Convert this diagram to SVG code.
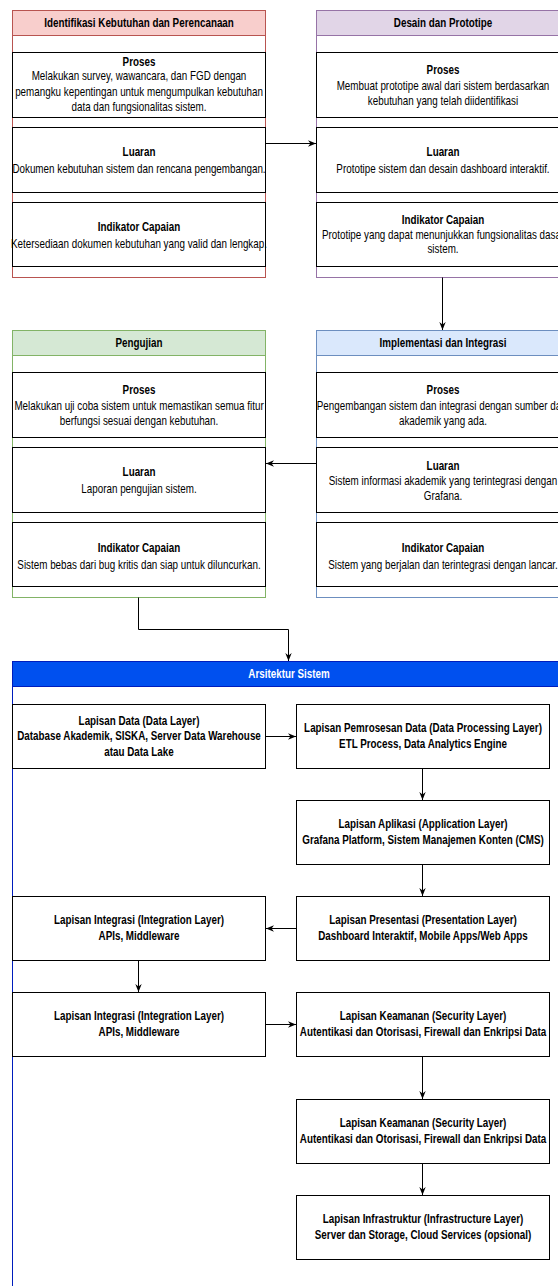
<svg xmlns="http://www.w3.org/2000/svg" width="558" height="1286" viewBox="0 0 558 1286">
<style>
.t{font-family:"Liberation Sans",Arial,sans-serif;font-size:12px;text-anchor:middle;fill:#000;transform-box:fill-box;transform-origin:center;transform:scaleX(0.82)}
.b{font-weight:bold}
.w{fill:#fff}
.box{fill:#fff;stroke:#000;stroke-width:1}
.edge{fill:none;stroke:#000;stroke-width:1}
.red{stroke:#b85450}.redh{fill:#f8cecc;stroke:#b85450}
.pur{stroke:#9673a6}.purh{fill:#e1d5e7;stroke:#9673a6}
.grn{stroke:#82b366}.grnh{fill:#d5e8d4;stroke:#82b366}
.blu{stroke:#6c8ebf}.bluh{fill:#dae8fc;stroke:#6c8ebf}
.arc{stroke:#001dbc}.arch{fill:#0050ef;stroke:#001dbc}
.cont{fill:#fff;stroke-width:1}
</style>
<defs>
<marker id="arr" viewBox="0 0 10 10" refX="10" refY="5" markerWidth="8" markerHeight="8" orient="auto" markerUnits="userSpaceOnUse">
<path d="M0,1 L10,5 L0,9 L3,5 z" fill="#000"/>
</marker>
</defs>
<rect width="558" height="1286" fill="#fff"/>

<g id="identifikasi">
<rect class="cont red" x="12.5" y="10.5" width="253" height="267"/>
<rect class="redh" x="12.5" y="10.5" width="253" height="25"/>
<text class="t b" x="139" y="27">Identifikasi Kebutuhan dan Perencanaan</text>
<rect class="box" x="12.5" y="52.5" width="253" height="65"/>
<text class="t b" x="139" y="66">Proses</text>
<text class="t" x="139" y="80.5">Melakukan survey, wawancara, dan FGD dengan</text>
<text class="t" x="139" y="96">pemangku kepentingan untuk mengumpulkan kebutuhan</text>
<text class="t" x="139" y="111.5">data dan fungsionalitas sistem.</text>
<rect class="box" x="12.5" y="127.5" width="253" height="65"/>
<text class="t b" x="139" y="156">Luaran</text>
<text class="t" x="139" y="173.5">Dokumen kebutuhan sistem dan rencana pengembangan.</text>
<rect class="box" x="12.5" y="202.5" width="253" height="64"/>
<text class="t b" x="139" y="231">Indikator Capaian</text>
<text class="t" x="139" y="248.5">Ketersediaan dokumen kebutuhan yang valid dan lengkap.</text>
</g>

<g id="desain">
<rect class="cont pur" x="316.5" y="10.5" width="253" height="267"/>
<rect class="purh" x="316.5" y="10.5" width="253" height="25"/>
<text class="t b" x="443" y="27">Desain dan Prototipe</text>
<rect class="box" x="316.5" y="52.5" width="253" height="65"/>
<text class="t b" x="443" y="74">Proses</text>
<text class="t" x="443" y="90">Membuat prototipe awal dari sistem berdasarkan</text>
<text class="t" x="443" y="105.5">kebutuhan yang telah diidentifikasi</text>
<rect class="box" x="316.5" y="127.5" width="253" height="65"/>
<text class="t b" x="443" y="156">Luaran</text>
<text class="t" x="443" y="173.5">Prototipe sistem dan desain dashboard interaktif.</text>
<rect class="box" x="316.5" y="202.5" width="253" height="64"/>
<text class="t b" x="443" y="224.5">Indikator Capaian</text>
<text class="t" x="443" y="239">Prototipe yang dapat menunjukkan fungsionalitas dasar</text>
<text class="t" x="443" y="253.5">sistem.</text>
</g>

<g id="pengujian">
<rect class="cont grn" x="12.5" y="330.5" width="253" height="267"/>
<rect class="grnh" x="12.5" y="330.5" width="253" height="25"/>
<text class="t b" x="139" y="347">Pengujian</text>
<rect class="box" x="12.5" y="372.5" width="253" height="65"/>
<text class="t b" x="139" y="394.5">Proses</text>
<text class="t" x="139" y="410">Melakukan uji coba sistem untuk memastikan semua fitur</text>
<text class="t" x="139" y="425.5">berfungsi sesuai dengan kebutuhan.</text>
<rect class="box" x="12.5" y="447.5" width="253" height="65"/>
<text class="t b" x="139" y="476">Luaran</text>
<text class="t" x="139" y="493.5">Laporan pengujian sistem.</text>
<rect class="box" x="12.5" y="522.5" width="253" height="64"/>
<text class="t b" x="139" y="552">Indikator Capaian</text>
<text class="t" x="139" y="569.5">Sistem bebas dari bug kritis dan siap untuk diluncurkan.</text>
</g>

<g id="implementasi">
<rect class="cont blu" x="316.5" y="330.5" width="253" height="267"/>
<rect class="bluh" x="316.5" y="330.5" width="253" height="25"/>
<text class="t b" x="443" y="347">Implementasi dan Integrasi</text>
<rect class="box" x="316.5" y="372.5" width="253" height="65"/>
<text class="t b" x="443" y="394.5">Proses</text>
<text class="t" x="443" y="410">Pengembangan sistem dan integrasi dengan sumber data</text>
<text class="t" x="443" y="425.5">akademik yang ada.</text>
<rect class="box" x="316.5" y="447.5" width="253" height="65"/>
<text class="t b" x="443" y="470">Luaran</text>
<text class="t" x="443" y="485">Sistem informasi akademik yang terintegrasi dengan</text>
<text class="t" x="443" y="500">Grafana.</text>
<rect class="box" x="316.5" y="522.5" width="253" height="64"/>
<text class="t b" x="443" y="552">Indikator Capaian</text>
<text class="t" x="443" y="569.5">Sistem yang berjalan dan terintegrasi dengan lancar.</text>
</g>

<g id="arsitektur">
<rect class="cont arc" x="12.5" y="661.5" width="553" height="640"/>
<rect class="arch" x="12.5" y="661.5" width="553" height="25"/>
<text class="t b w" x="289" y="678">Arsitektur Sistem</text>
</g>

<g id="data-layer">
<rect class="box" x="12.5" y="704.5" width="253" height="64"/>
<text class="t b" x="139" y="725">Lapisan Data (Data Layer)</text>
<text class="t b" x="139" y="740.5">Database Akademik, SISKA, Server Data Warehouse</text>
<text class="t b" x="139" y="756">atau Data Lake</text>
</g>
<g id="processing-layer">
<rect class="box" x="296.5" y="704.5" width="253" height="64"/>
<text class="t b" x="423" y="732.5">Lapisan Pemrosesan Data (Data Processing Layer)</text>
<text class="t b" x="423" y="748.5">ETL Process, Data Analytics Engine</text>
</g>
<g id="application-layer">
<rect class="box" x="296.5" y="800.5" width="253" height="64"/>
<text class="t b" x="423" y="828.5">Lapisan Aplikasi (Application Layer)</text>
<text class="t b" x="423" y="844.5">Grafana Platform, Sistem Manajemen Konten (CMS)</text>
</g>
<g id="presentation-layer">
<rect class="box" x="296.5" y="896.5" width="253" height="64"/>
<text class="t b" x="423" y="924.5">Lapisan Presentasi (Presentation Layer)</text>
<text class="t b" x="423" y="940.5">Dashboard Interaktif, Mobile Apps/Web Apps</text>
</g>
<g id="integration-layer-1">
<rect class="box" x="12.5" y="896.5" width="253" height="64"/>
<text class="t b" x="139" y="924.5">Lapisan Integrasi (Integration Layer)</text>
<text class="t b" x="139" y="940.5">APIs, Middleware</text>
</g>
<g id="integration-layer-2">
<rect class="box" x="12.5" y="992.5" width="253" height="64"/>
<text class="t b" x="139" y="1020.5">Lapisan Integrasi (Integration Layer)</text>
<text class="t b" x="139" y="1036.5">APIs, Middleware</text>
</g>
<g id="security-layer-1">
<rect class="box" x="296.5" y="992.5" width="253" height="64"/>
<text class="t b" x="423" y="1020.5">Lapisan Keamanan (Security Layer)</text>
<text class="t b" x="423" y="1036.5">Autentikasi dan Otorisasi, Firewall dan Enkripsi Data</text>
</g>
<g id="security-layer-2">
<rect class="box" x="296.5" y="1099.5" width="253" height="64"/>
<text class="t b" x="423" y="1127.5">Lapisan Keamanan (Security Layer)</text>
<text class="t b" x="423" y="1143.5">Autentikasi dan Otorisasi, Firewall dan Enkripsi Data</text>
</g>
<g id="infrastructure-layer">
<rect class="box" x="296.5" y="1195.5" width="253" height="64"/>
<text class="t b" x="423" y="1223.5">Lapisan Infrastruktur (Infrastructure Layer)</text>
<text class="t b" x="423" y="1239.5">Server dan Storage, Cloud Services (opsional)</text>
</g>

<g id="connectors">
<path class="edge" d="M265.5,143.5 H316" marker-end="url(#arr)"/>
<path class="edge" d="M442.5,277.5 V330" marker-end="url(#arr)"/>
<path class="edge" d="M316.5,463.5 H266" marker-end="url(#arr)"/>
<path class="edge" d="M138.5,597.5 V629.5 H288.5 V661" marker-end="url(#arr)"/>
<path class="edge" d="M265.5,736.5 H296" marker-end="url(#arr)"/>
<path class="edge" d="M422.5,768.5 V800" marker-end="url(#arr)"/>
<path class="edge" d="M422.5,864.5 V896" marker-end="url(#arr)"/>
<path class="edge" d="M296.5,928.5 H266" marker-end="url(#arr)"/>
<path class="edge" d="M138.5,960.5 V992" marker-end="url(#arr)"/>
<path class="edge" d="M265.5,1024.5 H296" marker-end="url(#arr)"/>
<path class="edge" d="M422.5,1056.5 V1099" marker-end="url(#arr)"/>
<path class="edge" d="M422.5,1163.5 V1195" marker-end="url(#arr)"/>
</g>
</svg>
